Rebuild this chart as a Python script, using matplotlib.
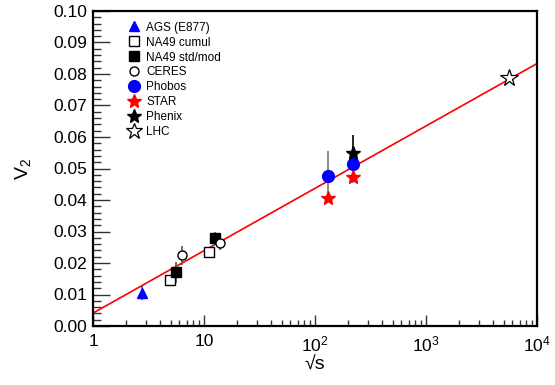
import numpy as np
import matplotlib
matplotlib.use('Agg')
import matplotlib.pyplot as plt
from matplotlib.lines import Line2D
from matplotlib.ticker import MultipleLocator, LogLocator, FixedLocator, NullFormatter

plt.rcParams['font.family'] = ['Liberation Sans', 'DejaVu Sans']
plt.rcParams['mathtext.fontset'] = 'custom'
plt.rcParams['mathtext.rm'] = 'Liberation Sans'

# data (sqrt(s), v2, error)
ags_x, ags_y, ags_e = [2.76], [0.0105], [0.0022]
na49c_x, na49c_y = [4.9, 11.0], [0.0146, 0.0236]
na49s_x, na49s_y, na49s_e = [5.6, 12.6], [0.0170, 0.0278], [0.0032, 0.0020]
ceres_x, ceres_y, ceres_e = [6.3, 13.9], [0.0225, 0.0265], [0.0030, 0.0025]
phobos_x, phobos_y, phobos_e = [130, 222], [0.0476, 0.0513], [0.0080, 0.0060]
star_x, star_y = [130, 222], [0.0405, 0.0472]
phenix_x, phenix_y, phenix_e = [222], [0.0550], [0.0055]
lhc_x, lhc_y = [5600], [0.0786]

labels = ['AGS (E877)', 'NA49 cumul', 'NA49 std/mod', 'CERES', 'Phobos', 'STAR', 'Phenix', 'LHC']

fit_x = [1, 1e4]
fit_a, fit_b = 0.0041, 0.0198

fig = plt.figure(figsize=(5.55, 3.85), dpi=100)
ax = fig.add_axes([93/555, 1-326/385, 444/555, 315/385])

xx = np.array(fit_x)
ax.plot(xx, fit_a + fit_b*np.log10(xx), color='red', lw=1.2, zorder=2)

ebkw = dict(ls='none', elinewidth=1.2, capsize=0, zorder=3)
ax.errorbar(ags_x, ags_y, yerr=ags_e, marker='^', ms=7.5, color='blue', ecolor='#555555', **ebkw)
ax.errorbar(na49c_x, na49c_y, marker='s', ms=7, mfc='white', mec='black', color='black', **ebkw)
ax.errorbar(na49s_x, na49s_y, yerr=na49s_e, marker='s', ms=7, color='black', ecolor='#555555', **ebkw)
ax.errorbar(ceres_x, ceres_y, yerr=ceres_e, marker='o', ms=6.5, mfc='white', mec='black', color='black', ecolor='#555555', **ebkw)
ax.errorbar(phobos_x, phobos_y, yerr=phobos_e, marker='o', ms=8.5, color='blue', ecolor='#777777', **ebkw)
ax.errorbar(star_x, star_y, marker='*', ms=10.5, color='red', **ebkw)
ax.errorbar(phenix_x, phenix_y, yerr=phenix_e, marker='*', ms=10.5, color='black', ecolor='black', **ebkw)
ax.errorbar(lhc_x, lhc_y, marker='*', ms=13, mfc='white', mec='black', mew=0.9, color='black', **ebkw)

ax.set_xscale('log')
ax.set_xlim(1, 1e4)
ax.set_ylim(0, 0.1)

ax.yaxis.set_major_locator(MultipleLocator(0.01))
ax.yaxis.set_minor_locator(MultipleLocator(0.002))
ax.yaxis.set_major_formatter(plt.FuncFormatter(lambda v, p: '%.2f' % v))
ax.xaxis.set_major_locator(FixedLocator([1, 10, 100, 1000, 10000]))
ax.xaxis.set_minor_locator(LogLocator(base=10, subs=np.arange(2, 10)))
ax.xaxis.set_minor_formatter(NullFormatter())
ax.set_xticklabels(['1', '10', r'$\mathregular{10^{2}}$', r'$\mathregular{10^{3}}$', r'$\mathregular{10^{4}}$'])

ax.tick_params(axis='both', which='both', direction='in', top=False, right=False, labelsize=12.5, width=1, color='#333333')
ax.tick_params(axis='y', which='major', length=12, pad=4)
ax.tick_params(axis='y', which='minor', length=6)
ax.tick_params(axis='x', which='major', length=8, pad=6)
ax.tick_params(axis='x', which='minor', length=4)
for s in ax.spines.values():
    s.set_linewidth(1.6)

ax.set_ylabel(r'V$_\mathregular{2}$', fontsize=14, labelpad=14)
ax.set_xlabel('√s', fontsize=14, labelpad=2)

# legend handles without error bars
handles = [
    Line2D([], [], ls='none', marker='^', ms=7, color='blue'),
    Line2D([], [], ls='none', marker='s', ms=6.5, mfc='white', mec='black'),
    Line2D([], [], ls='none', marker='s', ms=6.5, color='black'),
    Line2D([], [], ls='none', marker='o', ms=6.5, mfc='white', mec='black'),
    Line2D([], [], ls='none', marker='o', ms=8.5, color='blue'),
    Line2D([], [], ls='none', marker='*', ms=10, color='red'),
    Line2D([], [], ls='none', marker='*', ms=10, color='black'),
    Line2D([], [], ls='none', marker='*', ms=12, mfc='white', mec='black', mew=0.9),
]
ax.legend(handles, labels, loc='upper left', bbox_to_anchor=(0.064, 0.985), frameon=False, fontsize=8.5,
          handletextpad=0.4, labelspacing=0.25, borderpad=0, handlelength=1.2, numpoints=1)

plt.savefig('out.png', dpi=100)
